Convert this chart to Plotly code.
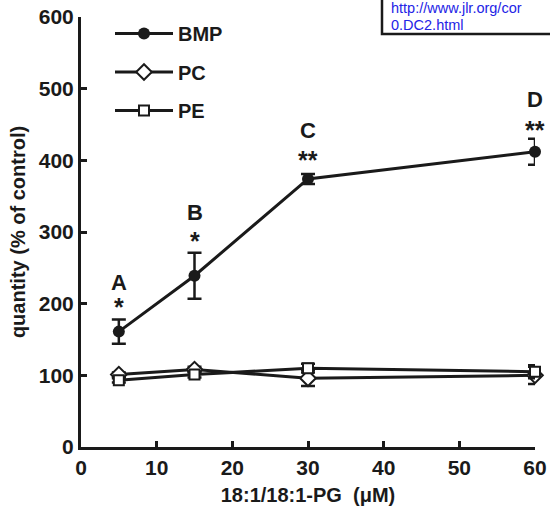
import plotly.graph_objects as go

conc = [5, 15, 30, 60]
bmp = [161, 239, 374, 412]
bmp_err = [17, 32, 7, 18]
pc = [101, 108, 96, 100]
pc_err = [3, 4, 11, 12]
pe = [93, 101, 110, 105]
pe_err = [3, 4, 6, 9]
sig_letters = ["A", "B", "C", "D"]
sig_stars = ["*", "*", "**", "**"]
letter_y = [229, 327, 441, 485]
star_y = [200, 291, 404, 446]

FONT = "Liberation Sans, Arial, Helvetica, sans-serif"
BLACK = "#1a1a1a"

fig = go.Figure()

def err(vals):
    return dict(type="data", array=vals, visible=True, color=BLACK, thickness=2.5, width=7)

fig.add_trace(go.Scatter(
    x=conc, y=bmp, error_y=err(bmp_err), name="BMP", mode="lines+markers",
    line=dict(color=BLACK, width=3),
    marker=dict(symbol="circle", size=12, color=BLACK),
    cliponaxis=False, legendgroup="a"))
fig.add_trace(go.Scatter(
    x=conc, y=pc, error_y=err(pc_err), name="PC", mode="lines+markers",
    line=dict(color=BLACK, width=3),
    marker=dict(symbol="diamond", size=12, color="white", line=dict(color=BLACK, width=2)),
    cliponaxis=False, legendgroup="b"))
fig.add_trace(go.Scatter(
    x=conc, y=pe, error_y=err(pe_err), name="PE", mode="lines+markers",
    line=dict(color=BLACK, width=3),
    marker=dict(symbol="square", size=10, color="white", line=dict(color=BLACK, width=2)),
    cliponaxis=False, legendgroup="c"))

annotations = []
for xv, lt, ly in zip(conc, sig_letters, letter_y):
    annotations.append(dict(x=xv, y=ly, xref="x", yref="y", text=lt, showarrow=False,
                            font=dict(family=FONT, size=22, color=BLACK, weight="bold")))
for xv, st, sy in zip(conc, sig_stars, star_y):
    annotations.append(dict(x=xv, y=sy, xref="x", yref="y", text=st, showarrow=False,
                            yshift=-3,
                            font=dict(family=FONT, size=25, color=BLACK, weight="bold")))

BLUE = "#2323e6"
annotations.append(dict(x=(389 - 81) / 454, y=(447 - 8) / 430, xref="paper", yref="paper",
                        text="http://www.jlr.org/cor", showarrow=False,
                        xanchor="left", yanchor="middle",
                        font=dict(family=FONT, size=14.5, color=BLUE)))
annotations.append(dict(x=(389 - 81) / 454, y=(447 - 25) / 430, xref="paper", yref="paper",
                        text="0.DC2.html", showarrow=False, xanchor="left", yanchor="middle",
                        font=dict(family=FONT, size=14.5, color=BLUE)))

fig.update_layout(
    width=550, height=510,
    margin=dict(l=81, r=15, t=17, b=63),
    paper_bgcolor="white", plot_bgcolor="white",
    font=dict(family=FONT, color=BLACK),
    showlegend=True,
    legend=dict(x=(110 - 81) / 454, y=1.0 + 3 / 430, xanchor="left", yanchor="top",
                font=dict(family=FONT, size=20, color=BLACK, weight="bold"),
                bgcolor="rgba(0,0,0,0)", itemwidth=58, tracegroupgap=9.5),
    annotations=annotations,
    shapes=[dict(type="rect", xref="paper", yref="paper",
                 x0=(382 - 81) / 454, x1=1.2, y0=(447 - 34) / 430, y1=1.2,
                 line=dict(color=BLACK, width=2.5), fillcolor="rgba(0,0,0,0)")],
    xaxis=dict(range=[0, 60], tickvals=[0, 10, 20, 30, 40, 50, 60],
               showline=True, linecolor=BLACK, linewidth=3, mirror=False,
               ticks="inside", ticklen=6, tickwidth=2.5, tickcolor=BLACK,
               showgrid=False, zeroline=False, automargin=False,
               tickfont=dict(family=FONT, size=21, color=BLACK, weight="bold"),
               title=dict(text="18:1/18:1-PG&nbsp;&nbsp;(μM)", standoff=10,
                          font=dict(family=FONT, size=20, color=BLACK, weight="bold"))),
    yaxis=dict(range=[0, 600], tickvals=[0, 100, 200, 300, 400, 500, 600],
               showline=True, linecolor=BLACK, linewidth=3, mirror=False,
               ticks="inside", ticklen=6, tickwidth=2.5, tickcolor=BLACK,
               showgrid=False, zeroline=False, automargin=False,
               tickfont=dict(family=FONT, size=21, color=BLACK, weight="bold"),
               title=dict(text="quantity (% of control)", standoff=8,
                          font=dict(family=FONT, size=20, color=BLACK, weight="bold"))),
)

fig.write_html("out.html", config={"displayModeBar": False},
               post_script="document.body.style.margin='0';document.body.style.overflow='hidden';")
